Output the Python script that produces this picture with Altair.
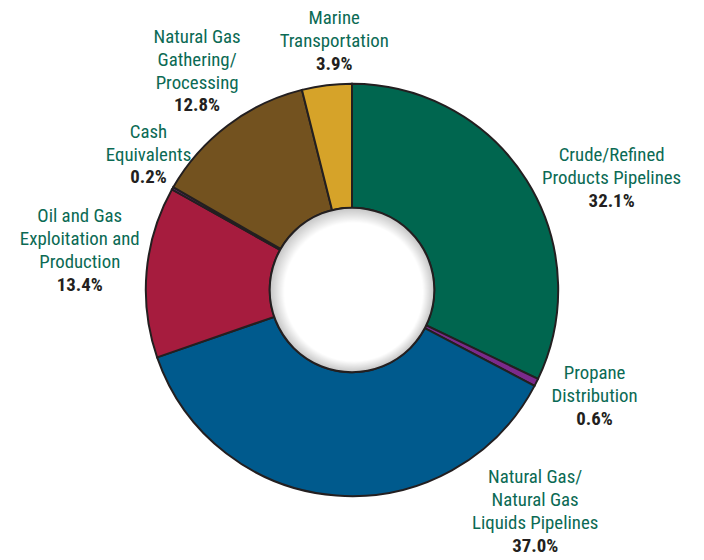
import math
import altair as alt
import pandas as pd

# ---- data ----
categories = [
    "Crude/Refined Products Pipelines",
    "Propane Distribution",
    "Natural Gas/Natural Gas Liquids Pipelines",
    "Oil and Gas Exploitation and Production",
    "Cash Equivalents",
    "Natural Gas Gathering/Processing",
    "Marine Transportation",
]
label_lines = [
    ["Crude/Refined", "Products Pipelines"],
    ["Propane", "Distribution"],
    ["Natural Gas/", "Natural Gas", "Liquids Pipelines"],
    ["Oil and Gas", "Exploitation and", "Production"],
    ["Cash", "Equivalents"],
    ["Natural Gas", "Gathering/", "Processing"],
    ["Marine", "Transportation"],
]
shares = [32.1, 0.6, 37.0, 13.4, 0.2, 12.8, 3.9]

# ---- style / layout ----
colors = ["#00664F", "#7B2A8C", "#005A8D", "#A61C3E", "#7B2A8C", "#73521F", "#D6A329"]
# anchor of each label (top of its percentage line): angular shift from slice middle (deg), radius (px)
label_shift_deg = [11.5, -0.3, -40.9, -2.1, 1.3, -1.6, 2.7]
label_radius = [280, 273, 310, 275, 239, 250, 238]
FONT = "Liberation Sans Narrow, Roboto Condensed, Roboto"
FS = 19
LH = 23

cum = []
s = 0.0
for v in shares:
    cum.append(s)
    s += v
mids = [(c + v / 2) * 3.6 + sh for c, v, sh in zip(cum, shares, label_shift_deg)]

df = pd.DataFrame({
    "category": categories,
    "share": shares,
    "pct": [f"{v:.1f}%" for v in shares],
    "start": [c * 3.6 for c in cum],
    "end": [(c + v) * 3.6 for c, v in zip(cum, shares)],
    "label_deg": mids,
    "label_r": label_radius,
})

rows = []
for cat, lines, d, r in zip(categories, label_lines, mids, label_radius):
    for j, line in enumerate(reversed(lines)):
        rows.append({"category": cat, "line": line, "j": j, "label_deg": d, "label_r": r})
lines_df = pd.DataFrame(rows)

theta_scale = alt.Scale(domain=[0, 360], range=[0, 2 * math.pi])

arcs = alt.Chart(df).mark_arc(outerRadius=208, innerRadius=83, stroke="#231F20", strokeWidth=2).encode(
    theta=alt.Theta("start:Q", scale=theta_scale),
    theta2=alt.Theta2("end:Q"),
    fill=alt.Fill("category:N", scale=alt.Scale(domain=categories, range=colors), legend=None),
)

hole = alt.Chart(pd.DataFrame({"v": [1]})).mark_arc(
    outerRadius=83, innerRadius=0, theta=0, theta2=2 * math.pi,
    stroke="#231F20", strokeWidth=2,
    fill={
        "gradient": "radial",
        "x1": 0.56, "y1": 0.58, "r1": 0,
        "x2": 0.5, "y2": 0.5, "r2": 0.5,
        "stops": [
            {"offset": 0, "color": "#ffffff"},
            {"offset": 0.84, "color": "#ffffff"},
            {"offset": 1, "color": "#c4c4c4"},
        ],
    },
).encode(opacity=alt.value(1))

pos = dict(
    theta=alt.Theta("label_deg:Q", scale=theta_scale),
    radius=alt.Radius("label_r:Q", scale=None),
)

name_layers = []
for j in range(3):
    name_layers.append(
        alt.Chart(lines_df).transform_filter(alt.datum.j == j).mark_text(
            font=FONT, fontSize=FS, baseline="top", align="center",
            color="#0B6A54", dy=-(j + 1) * LH,
        ).encode(text="line:N", **pos)
    )

pcts = alt.Chart(df).mark_text(
    font=FONT, fontSize=FS, fontWeight="bold",
    baseline="top", align="center", color="#231F20",
).encode(text="pct:N", **pos)

chart = alt.layer(arcs, hole, *name_layers, pcts).properties(
    width=694, height=524,
    padding={"left": 0, "top": 20, "right": 0, "bottom": 6},
    autosize="none",
).configure_view(stroke=None)

chart.save("out.html", embed_options={"renderer": "svg", "actions": False})
